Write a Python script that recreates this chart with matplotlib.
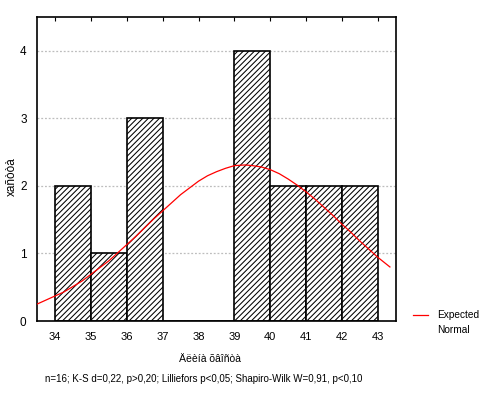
import numpy as np
import matplotlib.pyplot as plt

plt.rcParams['font.family'] = ['Liberation Sans', 'DejaVu Sans']
plt.rcParams['hatch.linewidth'] = 0.75

# данные гистограммы
bin_left = [34, 35, 36, 37, 38, 39, 40, 41, 42]
counts = [2, 1, 3, 0, 0, 4, 2, 2, 2]

# ожидаемая нормальная кривая
curve_x = [33.5, 33.75, 34, 34.25, 34.5, 34.75, 35, 35.25, 35.5, 35.75,
           36, 36.25, 36.5, 36.75, 37, 37.25, 37.5, 37.75, 38, 38.25,
           38.5, 38.75, 39, 39.3, 39.5, 39.75, 40, 40.25, 40.5, 40.75,
           41, 41.25, 41.5, 41.75, 42, 42.25, 42.5, 42.75, 43, 43.33]
curve_y = [0.25, 0.31, 0.37, 0.43, 0.51, 0.59, 0.69, 0.79, 0.89, 1.01,
           1.13, 1.25, 1.38, 1.51, 1.63, 1.75, 1.87, 1.97, 2.07, 2.15,
           2.21, 2.26, 2.30, 2.31, 2.30, 2.28, 2.24, 2.18, 2.10, 2.01,
           1.91, 1.80, 1.68, 1.56, 1.43, 1.31, 1.18, 1.06, 0.94, 0.80]

xticks = list(range(34, 44))
yticks = [0, 1, 2, 3, 4]

fig = plt.figure(figsize=(4.87, 3.94), dpi=100)
ax = fig.add_axes([37 / 487, 1 - 321 / 394, (396 - 37) / 487, (321 - 17) / 394])

ax.bar(bin_left, counts, width=1, align='edge', color='white',
       edgecolor='black', linewidth=1.2, hatch='//////', zorder=2)
ax.plot(curve_x, curve_y, color='red', linewidth=0.9, zorder=3)

ax.set_xlim(33.5, 43.5)
ax.set_ylim(0, 4.5)
ax.set_xticks(xticks)
ax.set_yticks(yticks)
ax.tick_params(axis='x', which='both', bottom=False, top=True, direction='in',
               length=3, labelsize=8, pad=8)
ax.tick_params(axis='y', which='both', left=False, labelsize=8.5, pad=4)
for s in ax.spines.values():
    s.set_linewidth(1.2)
ax.yaxis.grid(True, linestyle=(0, (1.5, 1.5)), color='#bdbdbd',
              linewidth=0.9, zorder=0)
ax.set_axisbelow(True)

fig.text(12 / 487, 1 - 177 / 394, 'xañòòà', rotation=90, ha='center',
         va='center', fontsize=8.5)
fig.text(210 / 487, 1 - 359 / 394, 'Äëèíà õâîñòà', ha='center', va='center',
         fontsize=7.5)
fig.text(204 / 487, 1 - 379 / 394,
         'n=16; K-S d=0,22, p>0,20; Lilliefors p<0,05; Shapiro-Wilk W=0,91, p<0,10',
         ha='center', va='center', fontsize=7)

# легенда
fig.lines.append(plt.Line2D([413 / 487, 428 / 487], [1 - 315 / 394, 1 - 315 / 394],
                            color='red', linewidth=0.9, transform=fig.transFigure))
fig.text(437 / 487, 1 - 315 / 394, 'Expected', ha='left', va='center', fontsize=7.3)
fig.text(437 / 487, 1 - 330 / 394, 'Normal', ha='left', va='center', fontsize=7.3)

fig.savefig('out.png', dpi=100)
